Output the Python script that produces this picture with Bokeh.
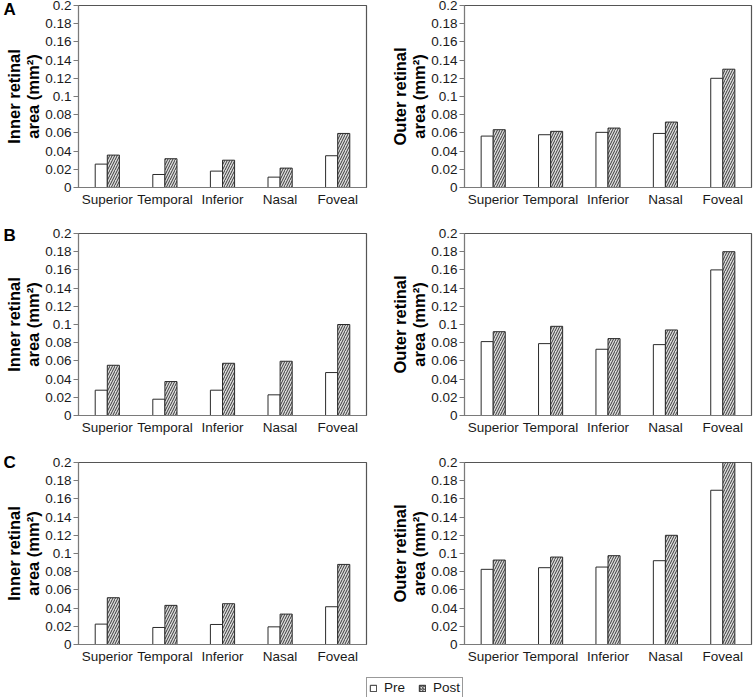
from bokeh.plotting import figure
from bokeh.models import (FactorRange, Range1d, FixedTicker, NumeralTickFormatter,
                          Title, Legend, LegendItem, ColumnDataSource)
from bokeh.layouts import column, row
from bokeh.transform import dodge
from bokeh.embed import file_html
from bokeh.resources import INLINE

# ---------------- data ----------------
categories = ["Superior", "Temporal", "Inferior", "Nasal", "Foveal"]
series_labels = ["Pre", "Post"]
y_ticks = [0, 0.02, 0.04, 0.06, 0.08, 0.1, 0.12, 0.14, 0.16, 0.18, 0.2]
panel_letters = ["A", "B", "C"]
inner_label = "Inner retinal\narea (mm\u00b2)"
outer_label = "Outer retinal\narea (mm\u00b2)"

a_inner_pre = [0.0257, 0.0143, 0.018, 0.0114, 0.0349]
a_inner_post = [0.0356, 0.0316, 0.030, 0.0213, 0.0594]
a_outer_pre = [0.0565, 0.058, 0.0606, 0.0594, 0.120]
a_outer_post = [0.0635, 0.0617, 0.0653, 0.0719, 0.130]

b_inner_pre = [0.0278, 0.0179, 0.0278, 0.0227, 0.0472]
b_inner_post = [0.0552, 0.0373, 0.0574, 0.0596, 0.100]
b_outer_pre = [0.0812, 0.079, 0.0728, 0.0779, 0.160]
b_outer_post = [0.0921, 0.098, 0.0845, 0.094, 0.180]

c_inner_pre = [0.0224, 0.0187, 0.022, 0.0194, 0.0415]
c_inner_post = [0.0514, 0.043, 0.0448, 0.0334, 0.088]
c_outer_pre = [0.0826, 0.0844, 0.0851, 0.0921, 0.1695]
c_outer_post = [0.0928, 0.0961, 0.0976, 0.120, 0.200]

FONT = "Liberation Sans"
EDGE = "#2b2b2b"
HATCH = "#3a3a3a"
POST_FILL = "#dcdcdc"
AXIS = "#7a7a7a"

FRAME_H = 182


def style_bars(p, src):
    p.vbar(x=dodge("cat", -0.105, range=p.x_range), top="pre", width=0.21,
           source=src, fill_color="white", line_color=EDGE, line_width=1)
    p.vbar(x=dodge("cat", 0.105, range=p.x_range), top="post", width=0.21,
           source=src, fill_color=POST_FILL, hatch_pattern="/", hatch_color=HATCH,
           hatch_scale=5, hatch_weight=1, line_color=EDGE, line_width=1)


def make_panel(pre, post, ylabel, left, frame_w, right, top, bottom,
               letter=None, letter_standoff=-20):
    p = figure(x_range=FactorRange(*categories), y_range=Range1d(0, 0.2),
               width=left + frame_w + right, height=top + FRAME_H + bottom,
               min_border_left=left, min_border_right=right,
               min_border_top=top, min_border_bottom=bottom,
               output_backend="svg", toolbar_location=None)
    src = ColumnDataSource(dict(cat=categories, pre=pre, post=post))
    style_bars(p, src)
    p.xgrid.visible = False
    p.ygrid.visible = False
    p.outline_line_color = "#555555"
    p.outline_line_width = 1.2

    xa = p.xaxis[0]
    xa.major_tick_line_color = None
    xa.major_tick_out = 0
    xa.major_tick_in = 0
    xa.minor_tick_line_color = None
    xa.axis_line_color = AXIS
    xa.major_label_standoff = 4
    xa.major_label_text_font = FONT
    xa.major_label_text_font_size = "13.5px"
    xa.major_label_text_color = "#1a1a1a"

    ya = p.yaxis[0]
    ya.ticker = FixedTicker(ticks=y_ticks, minor_ticks=[])
    ya.formatter = NumeralTickFormatter(format="0.[00]")
    ya.axis_line_color = AXIS
    ya.major_tick_line_color = AXIS
    ya.major_tick_out = 5
    ya.major_tick_in = 0
    ya.minor_tick_line_color = None
    ya.major_label_standoff = 2
    ya.major_label_text_font = FONT
    ya.major_label_text_font_size = "13.5px"
    ya.major_label_text_color = "#1a1a1a"
    ya.axis_label = ylabel
    ya.axis_label_text_font = FONT
    ya.axis_label_text_font_style = "bold"
    ya.axis_label_text_font_size = "16.5px"
    ya.axis_label_text_line_height = 1.08
    ya.axis_label_text_color = "black"
    ya.axis_label_standoff = 0

    if letter is not None:
        p.add_layout(Title(text=letter, align="left", offset=-75,
                           standoff=letter_standoff,
                           vertical_align="bottom", text_font=FONT,
                           text_font_style="bold", text_font_size="17px",
                           text_color="black"), "above")
    return p


LW, LR = 288, 14
RL, RW, RR = 84, 287, 2

a_l = make_panel(a_inner_pre, a_inner_post, inner_label, 78, LW, LR, 5, 39, panel_letters[0], -26)
a_r = make_panel(a_outer_pre, a_outer_post, outer_label, RL, RW, RR, 5, 39)
b_l = make_panel(b_inner_pre, b_inner_post, inner_label, 78, LW, LR, 7, 39, panel_letters[1], -22)
b_r = make_panel(b_outer_pre, b_outer_post, outer_label, RL, RW, RR, 7, 39)
c_l = make_panel(c_inner_pre, c_inner_post, inner_label, 78, LW, LR, 8, 26, panel_letters[2], -18)
c_r = make_panel(c_outer_pre, c_outer_post, outer_label, RL, RW, RR, 8, 26)

# legend strip: the bars exist but fall outside this strip's y range, so only the legend shows
lg = figure(width=753, height=27, x_range=FactorRange(*categories), y_range=Range1d(1, 2),
            min_border=0, output_backend="svg", toolbar_location=None)
lg.axis.visible = False
lg.grid.visible = False
lg.outline_line_color = None
lsrc = ColumnDataSource(dict(cat=categories, pre=c_outer_pre, post=c_outer_post))
r_pre = lg.vbar(x="cat", top="pre", width=0.21, source=lsrc,
                fill_color="white", line_color=EDGE)
r_post = lg.vbar(x="cat", top="post", width=0.21, source=lsrc,
                 fill_color=POST_FILL, hatch_pattern="/", hatch_color=HATCH,
                 hatch_scale=3, hatch_weight=1, line_color=EDGE)
legend = Legend(items=[LegendItem(label=series_labels[0], renderers=[r_pre]),
                       LegendItem(label=series_labels[1], renderers=[r_post])],
                orientation="horizontal", location=(366, -1),
                glyph_width=8, glyph_height=8, label_standoff=7, spacing=8,
                padding=2, margin=0, label_height=13, label_width=26,
                border_line_color="#333333", border_line_width=1,
                label_text_font=FONT, label_text_font_size="13.5px",
                label_text_color="#1a1a1a")
lg.add_layout(legend, "center")

layout = column(row(a_l, a_r), row(b_l, b_r), row(c_l, c_r), lg)

open("out.html", "w").write(file_html(layout, INLINE))
